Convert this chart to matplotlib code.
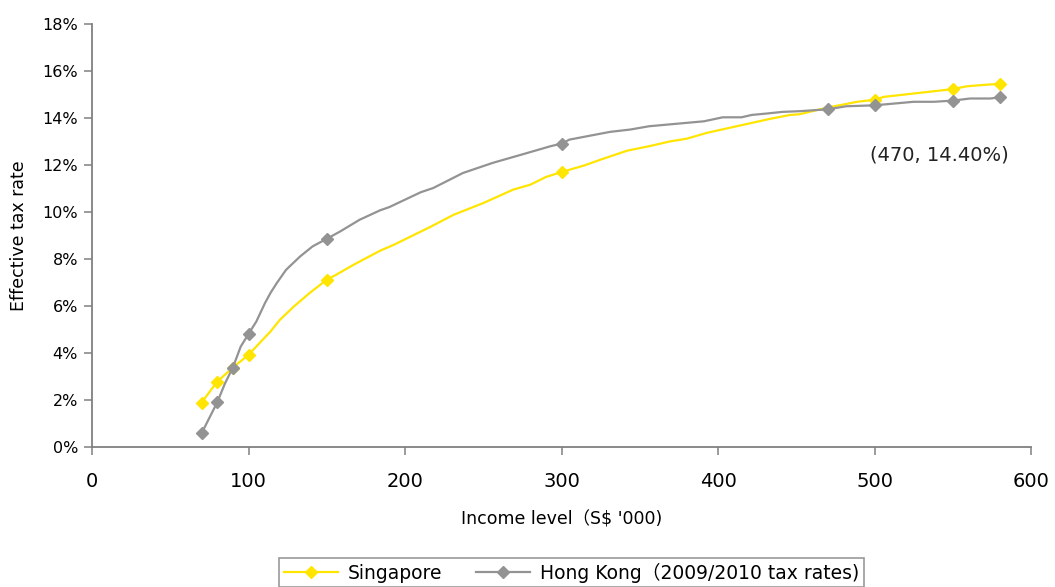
import numpy as np
import matplotlib
matplotlib.use("Agg")
import matplotlib.pyplot as plt
from matplotlib.ticker import FuncFormatter

plt.rcParams["font.family"] = ["DejaVu Sans", "Noto Sans CJK SC"]

# Singapore effective tax rate curve (income in S$ '000, rate in %)
sg_income = [70, 80, 90, 100, 107, 114, 120, 129, 139, 150, 156, 167, 184, 193,
             216, 231, 250, 269, 280, 290, 300, 315, 325, 342, 356, 369, 380,
             393, 414, 433, 446, 452, 469, 489, 500, 506, 538, 550, 559, 572, 580]
sg_rate = [1.89, 2.78, 3.38, 3.92, 4.42, 4.91, 5.41, 5.98, 6.55, 7.12, 7.33, 7.75,
           8.35, 8.61, 9.36, 9.88, 10.38, 10.95, 11.16, 11.49, 11.70, 11.99, 12.23,
           12.61, 12.80, 13.00, 13.12, 13.37, 13.68, 13.96, 14.13, 14.16, 14.43,
           14.69, 14.78, 14.90, 15.14, 15.23, 15.35, 15.42, 15.45]
sg_marked = [70, 80, 90, 100, 150, 300, 500, 550, 580]

# Hong Kong (2009/2010 tax rates)
hk_income = [70, 80, 85, 90, 95, 100, 105, 110.5, 114, 118, 124, 133, 141, 150,
             158.5, 171, 184, 190, 210, 218, 237, 256, 278, 293, 300, 305, 331,
             344, 356, 391, 403, 415, 421.5, 431, 441, 452, 470, 482, 500, 525,
             538, 550, 561, 574, 580]
hk_rate = [0.58, 1.90, 2.71, 3.38, 4.27, 4.81, 5.34, 6.12, 6.55, 6.97, 7.54, 8.11,
           8.54, 8.86, 9.17, 9.67, 10.07, 10.21, 10.84, 11.02, 11.66, 12.09, 12.51,
           12.80, 12.91, 13.08, 13.41, 13.51, 13.65, 13.86, 14.03, 14.03, 14.13,
           14.19, 14.26, 14.29, 14.37, 14.50, 14.54, 14.69, 14.69, 14.74, 14.83,
           14.83, 14.88]
hk_marked = [70, 80, 90, 100, 150, 300, 470, 500, 550, 580]

fig = plt.figure(figsize=(10.55, 5.87), dpi=100)
ax = fig.add_axes([0.0872, 0.2385, 0.8901, 0.7206])

sg_every = list(np.where(np.isin(sg_income, sg_marked))[0])
hk_every = list(np.where(np.isin(hk_income, hk_marked))[0])

ax.plot(sg_income, sg_rate, color="#FFE500", lw=1.6, marker="D", ms=6.5,
        markevery=sg_every, label="Singapore")
ax.plot(hk_income, hk_rate, color="#939393", lw=1.6, marker="D", ms=6.5,
        markevery=hk_every, label="Hong Kong（2009/2010 tax rates)")

ax.text(497, 12.44, "(470, 14.40%)", fontsize=14, va="center", ha="left",
        color="#222222")

ax.set_xlim(0, 600)
ax.set_ylim(0, 18)
ax.set_xticks(range(0, 601, 100))
ax.set_yticks(range(0, 19, 2))
ax.yaxis.set_major_formatter(FuncFormatter(lambda v, p: f"{v:.0f}%"))

for s in ["top", "right"]:
    ax.spines[s].set_visible(False)
for s in ["left", "bottom"]:
    ax.spines[s].set_color("#808080")
    ax.spines[s].set_linewidth(1.3)
ax.tick_params(axis="both", direction="out", length=6, color="#808080", width=1.1)
ax.tick_params(axis="y", labelsize=11.5, pad=4)
ax.tick_params(axis="x", labelsize=14, pad=12)

ax.set_xlabel("Income level（S$ '000)", fontsize=12.5, labelpad=14)
ax.set_ylabel("Effective tax rate", fontsize=12.5, labelpad=10)

leg = fig.legend(loc="upper center", bbox_to_anchor=(0.5417, 0.0494), ncol=2,
                 fontsize=13.5, frameon=True, fancybox=False, edgecolor="#808080",
                 handlelength=2.9, columnspacing=1.8, handletextpad=0.5,
                 borderpad=0.25, borderaxespad=0)
leg.get_frame().set_linewidth(1.2)

fig.savefig("out.png", dpi=100)
